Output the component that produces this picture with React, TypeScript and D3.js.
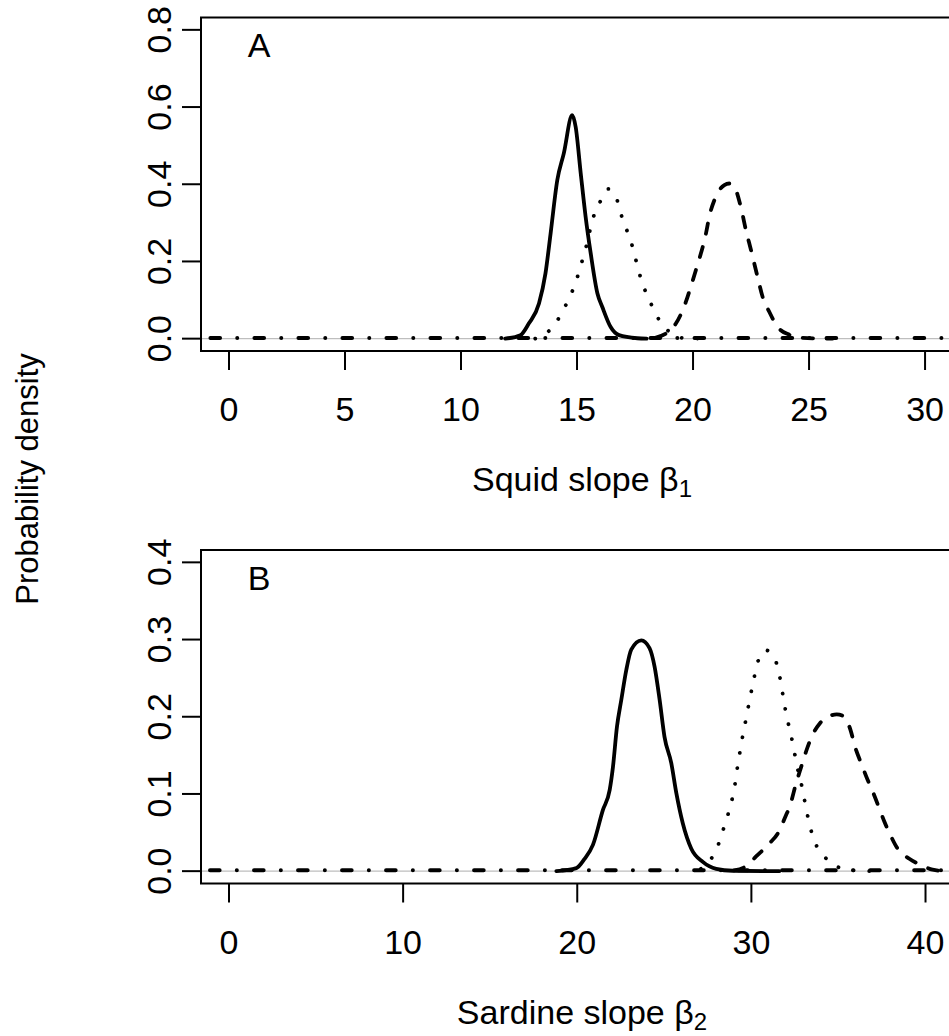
import React from "react";
import * as d3 from "d3";

// ---------- data ----------
const squidTicks = [0, 5, 10, 15, 20, 25, 30];
const squidDensityTicks = [0, 0.2, 0.4, 0.6, 0.8];
const sardineTicks = [0, 10, 20, 30, 40];
const sardineDensityTicks = [0, 0.1, 0.2, 0.3, 0.4];

const squidXlim = [0, 30.17];
const squidYlim = [0, 0.8];
const sardineXlim = [0, 40.2];
const sardineYlim = [0, 0.4];

// Panel A: squid slope beta1
const squidSolid: [number, number][] = [
  [11.9, 0], [12.56, 0.009], [12.92, 0.039], [13.36, 0.091], [13.64, 0.169],
  [13.86, 0.272], [14.15, 0.411], [14.43, 0.48], [14.79, 0.579], [14.94, 0.549],
  [15.16, 0.428], [15.37, 0.316], [15.59, 0.221], [15.88, 0.117], [16.09, 0.082],
  [16.45, 0.03], [16.81, 0.009], [17.6, 0.001], [18.0, 0],
];
const squidDotted: [number, number][] = [
  [13.2, 0], [13.57, 0.01], [14.07, 0.039], [14.41, 0.075], [14.72, 0.112],
  [14.97, 0.151], [15.18, 0.193], [15.37, 0.233], [15.7, 0.314], [15.99, 0.354],
  [16.35, 0.388], [16.74, 0.357], [16.93, 0.316], [17.17, 0.277], [17.39, 0.238],
  [17.57, 0.196], [17.75, 0.156], [18.0, 0.115], [18.29, 0.078], [18.61, 0.041],
  [19.11, 0.013], [19.54, 0.002], [20.5, 0],
];
const squidDashed: [number, number][] = [
  [18.4, 0.003], [18.87, 0.015], [19.26, 0.039], [19.69, 0.095], [19.9, 0.134],
  [20.12, 0.177], [20.34, 0.221], [20.51, 0.259], [20.73, 0.324], [20.92, 0.359],
  [21.35, 0.398], [21.56, 0.402], [21.78, 0.393], [22.06, 0.341], [22.28, 0.281],
  [22.5, 0.229], [22.78, 0.16], [23.0, 0.108], [23.29, 0.069], [23.65, 0.03],
  [24.15, 0.01], [24.65, 0.002], [26.0, 0],
];
const squidDotdash: [number, number][] = [
  [-0.8, 0.002], [31.6, 0.002],
];

// Panel B: sardine slope beta2
const sardineSolid: [number, number][] = [
  [18.8, 0], [19.95, 0.004], [20.42, 0.016], [20.9, 0.034], [21.47, 0.079],
  [21.86, 0.105], [22.05, 0.135], [22.28, 0.187], [22.53, 0.222], [22.82, 0.261],
  [23.1, 0.287], [23.68, 0.299], [24.15, 0.289], [24.44, 0.265], [24.73, 0.222],
  [25.01, 0.174], [25.4, 0.14], [25.69, 0.101], [26.06, 0.062], [26.55, 0.029],
  [27.21, 0.012], [27.98, 0.003], [28.93, 0.0005], [31.6, 0],
];
const sardineDotted: [number, number][] = [
  [27.1, 0.003], [27.69, 0.016], [28.11, 0.035], [28.4, 0.055], [28.69, 0.076],
  [28.92, 0.096], [29.09, 0.117], [29.22, 0.138], [29.37, 0.158], [29.53, 0.179],
  [29.72, 0.2], [29.89, 0.221], [30.08, 0.242], [30.27, 0.262], [30.56, 0.282],
  [30.85, 0.286], [31.15, 0.282], [31.52, 0.263], [31.71, 0.242], [31.86, 0.221],
  [32.03, 0.2], [32.24, 0.18], [32.43, 0.159], [32.6, 0.138], [32.82, 0.118],
  [33.01, 0.097], [33.18, 0.077], [33.39, 0.056], [33.68, 0.036], [34.19, 0.019],
  [34.86, 0.0065], [35.82, 0.001], [37.0, 0],
];
const sardineDashed: [number, number][] = [
  [29.0, 0.001], [29.7, 0.0065], [30.27, 0.019], [31.04, 0.036], [31.52, 0.049],
  [32.0, 0.073], [32.19, 0.083], [32.57, 0.114], [32.86, 0.135], [33.14, 0.155],
  [33.5, 0.176], [33.95, 0.192], [34.48, 0.201], [34.9, 0.203], [35.34, 0.2],
  [35.63, 0.187], [36.01, 0.157], [36.3, 0.14], [36.68, 0.118], [36.97, 0.103],
  [37.35, 0.081], [37.64, 0.064], [38.02, 0.045], [38.4, 0.029], [39.07, 0.016],
  [39.74, 0.008], [40.4, 0.002], [41.2, 0], [42.0, 0],
];
const sardineDotdash: [number, number][] = [
  [-1.09, 0.0013], [42.0, 0.0013],
];

// ---------- styling ----------
const FONT = "'Liberation Sans', Arial, Helvetica, sans-serif";
const FS = 34;
const FS_OUTER = 31;
const LINE = 35;
const LW = 3.8;
const DASH: Record<string, string | undefined> = {
  solid: undefined,
  dotted: "0.01 15.6",
  dashed: "10.3 13.7",
  dotdash: "9.6 17.2 0.01 17.2",
};

const BOX_LEFT = 201;
const BOX_RIGHT = 957;
const BOX_H = 333.5;

type Series = { pts: [number, number][]; style: string };

function expand(lim: number[]) {
  const d = (lim[1] - lim[0]) * 0.04;
  return [lim[0] - d, lim[1] + d];
}

function Panel(props: {
  id: string;
  top: number;
  xlim: number[];
  ylim: number[];
  xticks: number[];
  yticks: number[];
  letter: string;
  title: string;
  sub: string;
  series: Series[];
}) {
  const { id, top, xlim, ylim, xticks, yticks, letter, title, sub, series } = props;
  const bottom = top + BOX_H;
  const x = d3.scaleLinear().domain(expand(xlim)).range([BOX_LEFT, BOX_RIGHT]);
  const y = d3.scaleLinear().domain(expand(ylim)).range([bottom, top]);
  const line = d3
    .line<[number, number]>()
    .x((d) => x(d[0]))
    .y((d) => y(d[1]))
    .curve(d3.curveMonotoneX);
  const tick = 19;
  return (
    <g>
      <defs>
        <clipPath id={`clip-${id}`}>
          <rect x={BOX_LEFT} y={top} width={BOX_RIGHT - BOX_LEFT} height={BOX_H} />
        </clipPath>
      </defs>
      <g clipPath={`url(#clip-${id})`}>
        <line
          x1={BOX_LEFT}
          x2={BOX_RIGHT}
          y1={y(0)}
          y2={y(0)}
          stroke="#bebebe"
          strokeWidth={1.3}
        />
        {series.map((s, i) => (
          <path
            key={i}
            d={line(s.pts) || ""}
            fill="none"
            stroke="#000"
            strokeWidth={s.style === "dotdash" ? 4 : LW}
            strokeLinecap="round"
            strokeLinejoin="round"
            strokeDasharray={DASH[s.style]}
          />
        ))}
      </g>
      <rect
        x={BOX_LEFT}
        y={top}
        width={BOX_RIGHT - BOX_LEFT}
        height={BOX_H}
        fill="none"
        stroke="#000"
        strokeWidth={2}
      />
      {xticks.map((t) => (
        <g key={`x${t}`}>
          <line x1={x(t)} x2={x(t)} y1={bottom} y2={bottom + tick} stroke="#000" strokeWidth={2} />
          <text
            x={x(t)}
            y={bottom + 2 * LINE}
            textAnchor="middle"
            fontFamily={FONT}
            fontSize={FS}
          >
            {String(t)}
          </text>
        </g>
      ))}
      {yticks.map((t) => (
        <g key={`y${t}`}>
          <line x1={BOX_LEFT - tick} x2={BOX_LEFT} y1={y(t)} y2={y(t)} stroke="#000" strokeWidth={2} />
          <text
            transform={`translate(${BOX_LEFT - 30},${y(t)}) rotate(-90)`}
            textAnchor="middle"
            fontFamily={FONT}
            fontSize={FS}
          >
            {t.toFixed(1)}
          </text>
        </g>
      ))}
      <text x={259} y={top + 39.5} textAnchor="middle" fontFamily={FONT} fontSize={FS}>
        {letter}
      </text>
      <text
        x={(BOX_LEFT + BOX_RIGHT) / 2 + 3}
        y={bottom + 4 * LINE}
        textAnchor="middle"
        fontFamily={FONT}
        fontSize={FS}
      >
        {title}
        <tspan fontSize={24} dy={6}>
          {sub}
        </tspan>
      </text>
    </g>
  );
}

export default function App() {
  return (
    <div style={{ position: "absolute", left: 0, top: 0 }}>
      <svg width={949} height={1036} style={{ display: "block", background: "#fff" }}>
        <rect x={0} y={0} width={949} height={1036} fill="#fff" />
        <Panel
          id="a"
          top={17.5}
          xlim={squidXlim}
          ylim={squidYlim}
          xticks={squidTicks}
          yticks={squidDensityTicks}
          letter="A"
          title="Squid slope β"
          sub="1"
          series={[
            { pts: squidDotdash, style: "dotdash" },
            { pts: squidDashed, style: "dashed" },
            { pts: squidDotted, style: "dotted" },
            { pts: squidSolid, style: "solid" },
          ]}
        />
        <Panel
          id="b"
          top={550}
          xlim={sardineXlim}
          ylim={sardineYlim}
          xticks={sardineTicks}
          yticks={sardineDensityTicks}
          letter="B"
          title="Sardine slope β"
          sub="2"
          series={[
            { pts: sardineDotdash, style: "dotdash" },
            { pts: sardineDashed, style: "dashed" },
            { pts: sardineDotted, style: "dotted" },
            { pts: sardineSolid, style: "solid" },
          ]}
        />
        <text
          transform="translate(38,479) rotate(-90)"
          textAnchor="middle"
          fontFamily={FONT}
          fontSize={FS_OUTER}
        >
          Probability density
        </text>
      </svg>
    </div>
  );
}
